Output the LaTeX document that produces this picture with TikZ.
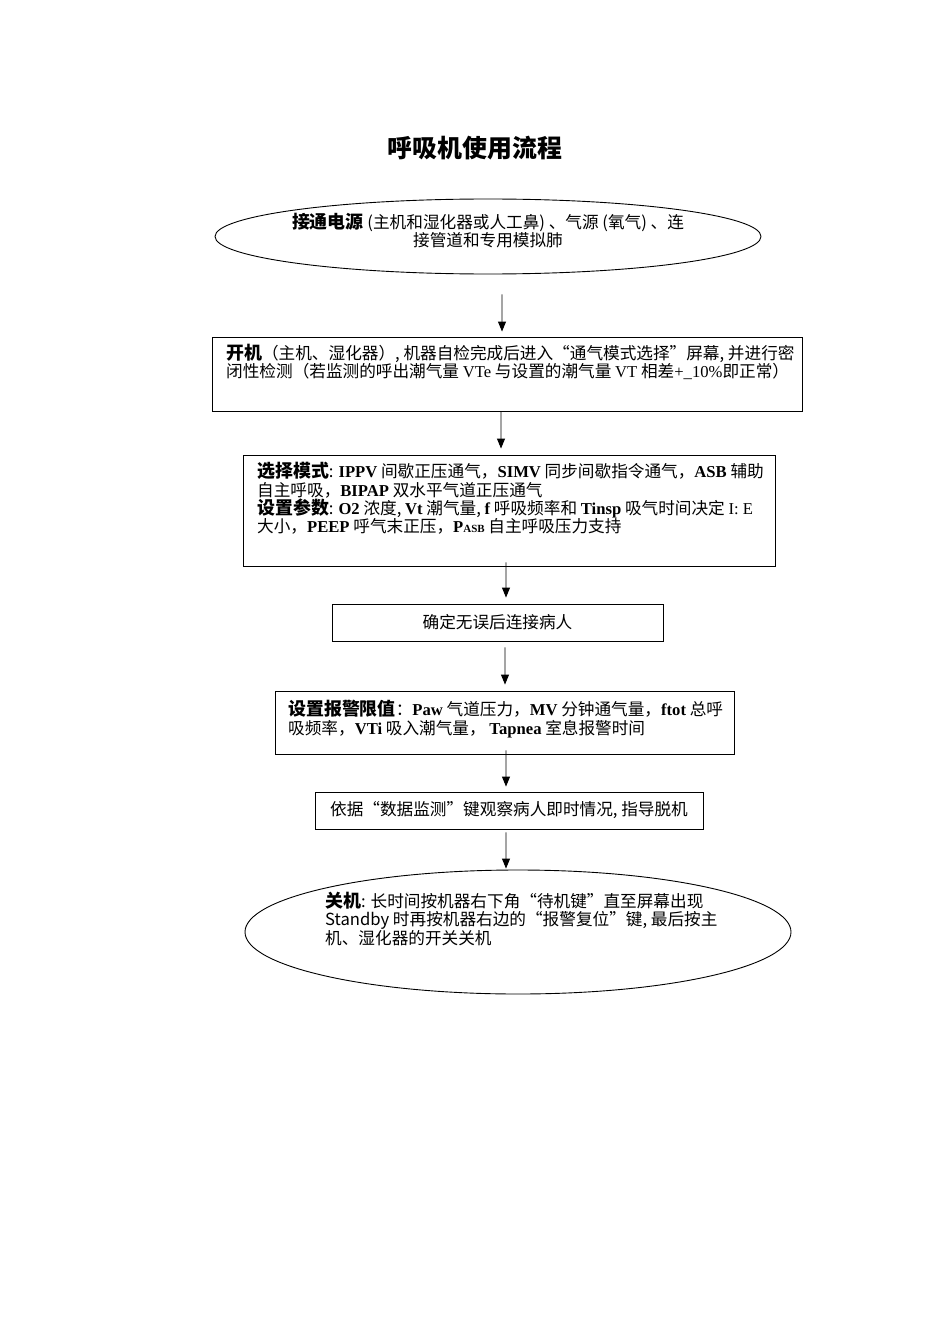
\documentclass[tikz,border=0pt]{standalone}
\usepackage{fontspec}
\setmainfont{Liberation Serif}
\newfontfamily\cjk{Noto Sans CJK SC}
\usetikzlibrary{arrows.meta,shapes.geometric}
\newcommand\hd[1]{{\cjk\bfseries\fontsize{18}{18}\selectfont #1}}
\newcommand\lb[1]{{\rmfamily\bfseries #1}}
\newcommand\lt[1]{{\rmfamily #1}}
\begin{document}
\begin{tikzpicture}[x=1bp,y=-1bp,
  shape frame/.style={draw, line width=0.9bp, inner sep=0pt},
  boxr/.style={shape frame, rectangle},
  oval/.style={shape frame, ellipse},
  txt/.style={inner sep=0pt, font=\cjk\fontsize{16.7}{18.5}\selectfont, align=left},
  arr/.style={line width=0.9bp, -{Triangle[length=10bp,width=8bp]}}]
\useasboundingbox (0,0) rectangle (950,1344);
\node[font=\cjk\bfseries\fontsize{25}{25}\selectfont] (title) at (475,148) {呼吸机使用流程};

\node[oval, minimum width=546bp, minimum height=75bp] (e1) at (488,236.5) {};
\node[txt, anchor=north, align=center] (t1) at (488,213) {\hd{接通电源} (主机和湿化器或人工鼻) 、气源 (氧气) 、连\\接管道和专用模拟肺};

\node[boxr, minimum width=590bp, minimum height=74bp] (b2) at (507,374) {};
\node[txt, anchor=north west] (t2) at (226,344) {\hd{开机}（主机、湿化器）, 机器自检完成后进入“通气模式选择”屏幕, 并进行密\\闭性检测（若监测的呼出潮气量 \lt{VTe} 与设置的潮气量 \lt{VT} 相差\lt{+\_10\%}即正常）};

\node[boxr, minimum width=532bp, minimum height=111bp] (b3) at (509,510.5) {};
\node[txt, anchor=north west] (t3) at (257,462) {\hd{选择模式}: \lb{IPPV} 间歇正压通气，\lb{SIMV} 同步间歇指令通气，\lb{ASB} 辅助\\自主呼吸，\lb{BIPAP} 双水平气道正压通气\\\hd{设置参数}: \lb{O2} 浓度, \lb{Vt} 潮气量, \lb{f} 呼吸频率和 \lb{Tinsp} 吸气时间决定 \lt{I: E}\\大小，\lb{PEEP} 呼气末正压，\lb{P{\fontsize{11}{11}\selectfont ASB}} 自主呼吸压力支持};

\node[boxr, txt, draw, align=center, minimum width=331bp, minimum height=37bp] (b4) at (497.5,622.5) {确定无误后连接病人};

\node[boxr, minimum width=459bp, minimum height=63bp] (b5) at (504.5,722.5) {};
\node[txt, anchor=north west] (t5) at (288,700) {\hd{设置报警限值}：\lb{Paw} 气道压力，\lb{MV} 分钟通气量，\lb{ftot} 总呼\\吸频率，\lb{VTi} 吸入潮气量， \lb{Tapnea} 室息报警时间};

\node[boxr, txt, draw, align=center, minimum width=388bp, minimum height=37bp] (b6) at (509,810.5) {依据“数据监测”键观察病人即时情况, 指导脱机};

\node[oval, minimum width=546bp, minimum height=124bp] (e2) at (518,932) {};
\node[txt, anchor=north west] (t7) at (325,892) {\hd{关机}: 长时间按机器右下角“待机键”直至屏幕出现\\Standby 时再按机器右边的“报警复位”键, 最后按主\\机、湿化器的开关关机};

\draw[arr] ([xshift=14bp,yshift=-20bp]e1.south) -- ([xshift=-5bp,yshift=5bp]b2.north);
\draw[arr] ([xshift=-6bp]b2.south) -- ([xshift=-8bp,yshift=6bp]b3.north);
\draw[arr] ([xshift=-3bp,yshift=4bp]b3.south) -- ([xshift=8.5bp,yshift=6bp]b4.north);
\draw[arr] ([xshift=7.5bp,yshift=-6bp]b4.south) -- ([xshift=0.5bp,yshift=6bp]b5.north);
\draw[arr] ([xshift=1.5bp,yshift=4bp]b5.south) -- ([xshift=-3bp,yshift=5bp]b6.north);
\draw[arr] ([xshift=-3bp,yshift=-3bp]b6.south) -- ([xshift=-12bp,yshift=1bp]e2.north);
\end{tikzpicture}
\end{document}
